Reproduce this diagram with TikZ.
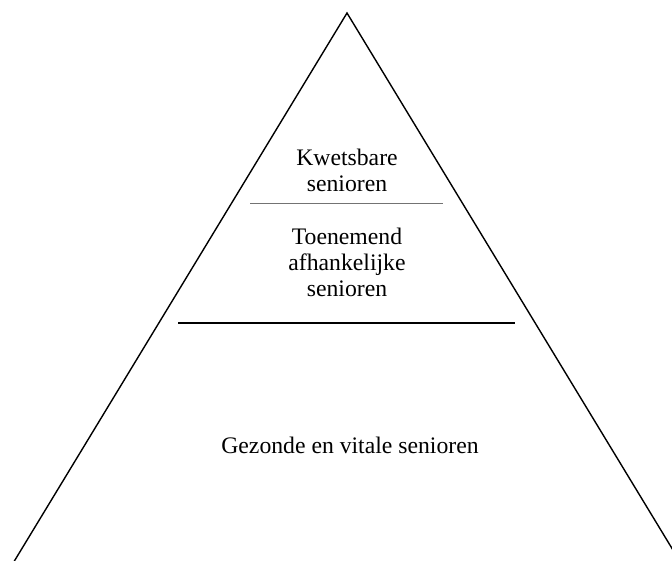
\documentclass[tikz,border=0pt]{standalone}
\usepackage{fontspec}
\setmainfont{Liberation Serif}
\begin{document}
\begin{tikzpicture}[x=1pt,y=-1pt,
  lbl/.style={align=center,inner sep=0pt,font=\fontsize{23.7}{26}\selectfont,anchor=base},
  side/.style={line width=1.4pt,black},
  thinsep/.style={line width=0.6pt,black!55},
  thicksep/.style={line width=1.7pt,black}]
\useasboundingbox (0,0) rectangle (672,560);
\clip (0,0) rectangle (672,560);
\coordinate (apex) at (347,13);
\coordinate (bl) at (347-600*0.607,613);
\coordinate (br) at (347+600*0.607,613);
\draw[side] (bl) -- (apex) -- (br);
\coordinate (s1a) at (250,203.5);
\coordinate (s1b) at (443,203.5);
\draw[thinsep] (s1a) -- (s1b);
\coordinate (s2a) at (178,323);
\coordinate (s2b) at (515,323);
\draw[thicksep] (s2a) -- (s2b);
\node[lbl] (kw) at (347,191.7) {Kwetsbare\\senioren};
\node[lbl] (toe) at (347,296.5) {Toenemend\\afhankelijke\\senioren};
\node[lbl] (gez) at (350,453) {Gezonde en vitale senioren};
\end{tikzpicture}
\end{document}
